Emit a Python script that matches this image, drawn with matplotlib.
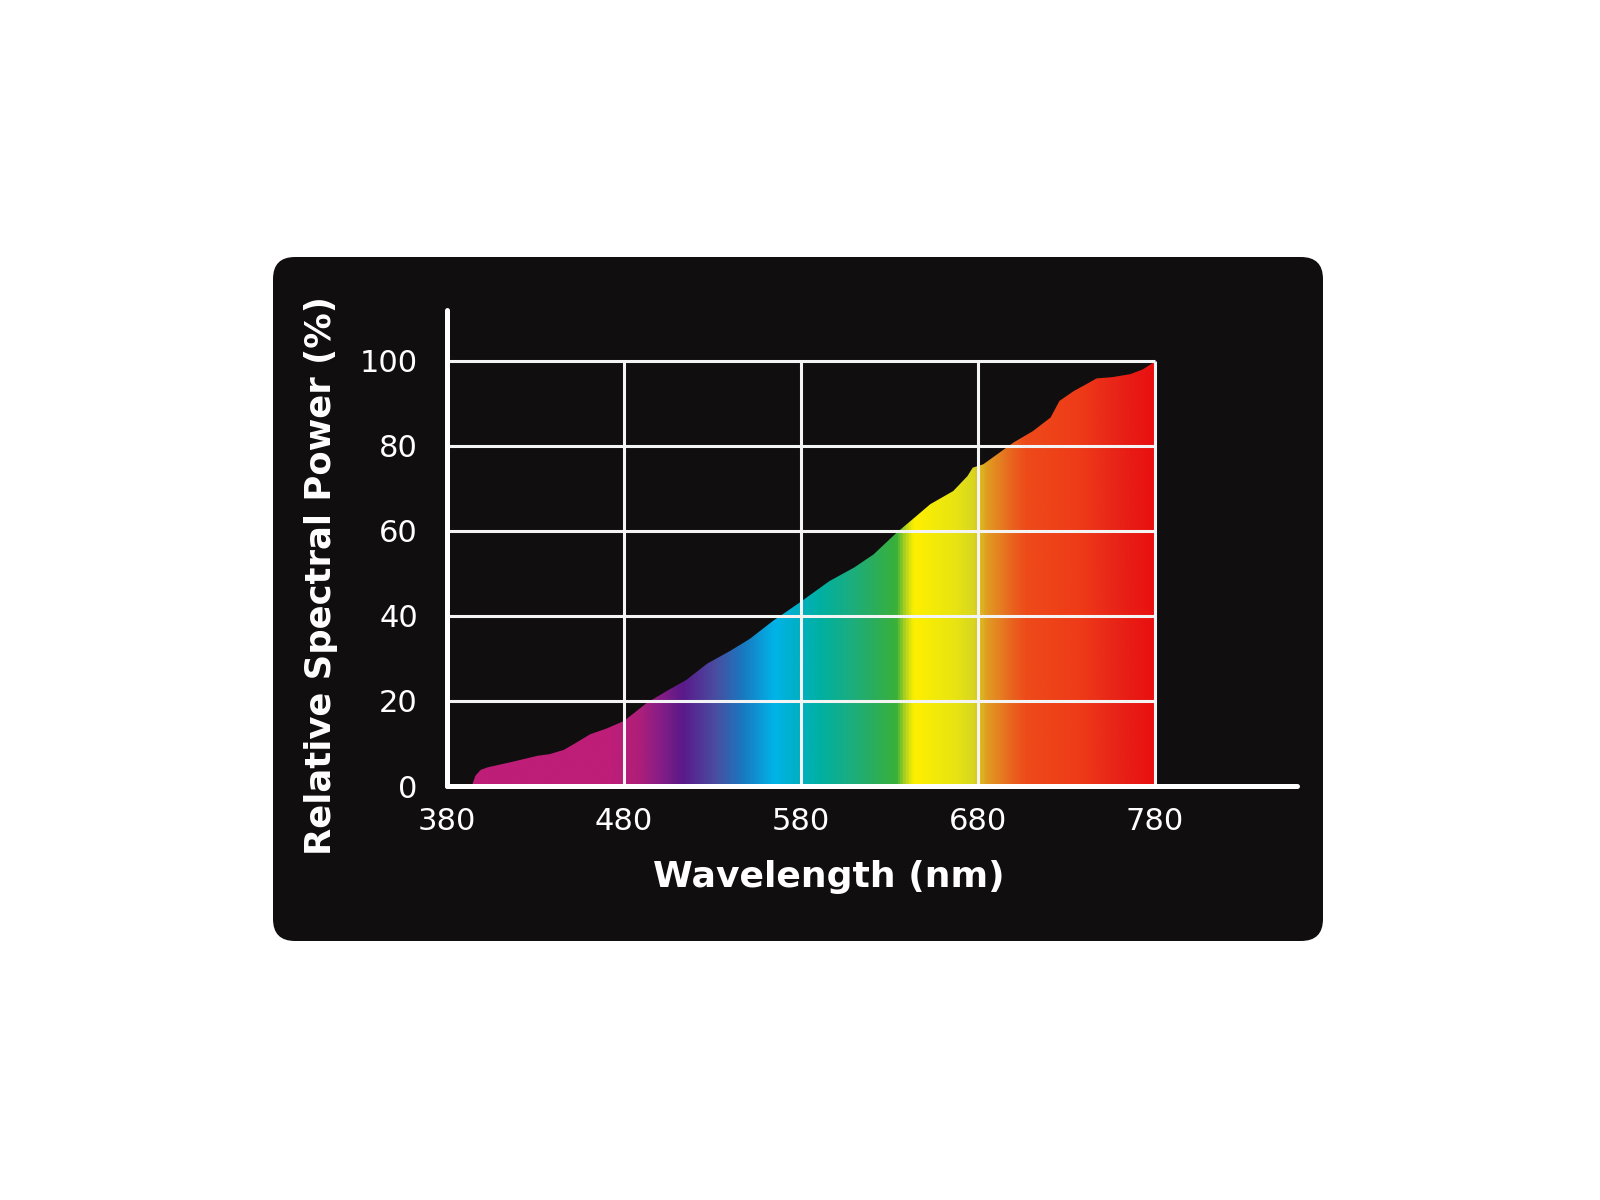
import numpy as np
import matplotlib
matplotlib.use('Agg')
import matplotlib.pyplot as plt
from matplotlib.patches import FancyBboxPatch
from matplotlib.colors import LinearSegmentedColormap

# ---- data ----
wavelength = [394, 396, 399, 403, 417, 431, 438, 446, 453, 461, 470, 480,
              493, 506, 515, 527, 540, 551, 564, 579, 591, 596, 610, 621,
              634, 644, 653, 666, 674, 677, 683, 692, 700, 711, 721, 726,
              734, 741, 747, 756, 766, 773, 779, 780]
power = [0, 2.4, 3.8, 4.4, 5.7, 7.1, 7.5, 8.5, 10.2, 12.2, 13.5, 15.3,
         19.6, 22.8, 24.9, 28.8, 31.8, 34.6, 38.8, 43.1, 46.7, 48.2, 51.4, 54.5,
         59.6, 63.1, 66.3, 69.4, 72.9, 74.9, 75.7, 78.4, 80.8, 83.5, 86.7, 90.6,
         92.9, 94.5, 95.9, 96.2, 96.9, 98.0, 99.6, 100]
x_ticks = [380, 480, 580, 680, 780]
y_ticks = [0, 20, 40, 60, 80, 100]

# spectrum colour stops (nm, colour)
stop_nm = [380, 470, 487, 499, 513, 531, 547, 565, 577, 591, 608, 624,
           634, 639, 644, 668, 678, 685, 698, 708, 739, 759, 780]
stop_colors = ['#be1e78', '#bf1e78', '#b01e78', '#8a1e85', '#5a1a8a', '#4a4ca0',
               '#1a78c0', '#00b4e8', '#00b0c8', '#00b0a2', '#1aad80', '#2eae55',
               '#3ab03a', '#a8d020', '#fff000', '#e8e412', '#d8d620', '#e0a020',
               '#e86a20', '#ee4a1a', '#ee3a18', '#e82418', '#e81010']

plt.rcParams['font.family'] = ['DejaVu Sans']

fig = plt.figure(figsize=(16, 12), dpi=100)
fig.patch.set_facecolor('white')

# background rounded black panel (pixel coordinates)
bg = fig.add_axes([0, 0, 1, 1])
bg.set_xlim(0, 1600)
bg.set_ylim(1200, 0)
bg.axis('off')
bg.add_patch(FancyBboxPatch((273, 257), 1050, 684,
                            boxstyle='round,pad=0,rounding_size=22',
                            fc='#110e0f', ec='none'))

ax = fig.add_axes([0.2794, 0.345, 0.531, 0.3967])
ax.patch.set_alpha(0)

# gradient fill clipped to the curve
poly = ax.fill_between(wavelength, power, 0, color='none', lw=0)
path = poly.get_paths()[0]
positions = [(s - stop_nm[0]) / (stop_nm[-1] - stop_nm[0]) for s in stop_nm]
cmap = LinearSegmentedColormap.from_list('spec', list(zip(positions, stop_colors)))
grad = np.linspace(0, 1, 1000).reshape(1, -1)
im = ax.imshow(grad, cmap=cmap, extent=[380, 780, 0, 100], aspect='auto',
               origin='lower', zorder=1, interpolation='bilinear')
im.set_clip_path(path, transform=ax.transData)

# grid cage
ax.hlines(y_ticks[1:], 380, 780, colors='#f4f4f4', lw=2.2, zorder=3)
ax.vlines(x_ticks[1:], 0, 100, colors='#f4f4f4', lw=2.2, zorder=3)

ax.set_xlim(380, 860)
ax.set_ylim(0, 112)

for side in ['top', 'right']:
    ax.spines[side].set_visible(False)
for side in ['left', 'bottom']:
    ax.spines[side].set_color('white')
    ax.spines[side].set_linewidth(3.6)
    ax.spines[side].set_capstyle('round')
    ax.spines[side].set_zorder(4)

ax.set_xticks(x_ticks)
ax.set_yticks(y_ticks)
ax.tick_params(axis='both', length=0, labelcolor='white', labelsize=22)
ax.tick_params(axis='x', pad=15)
ax.tick_params(axis='y', pad=21)

ax.set_xlabel('Wavelength (nm)', color='white', fontsize=26, fontweight='bold')
ax.set_ylabel('Relative Spectral Power (%)', color='white', fontsize=25.5,
              fontweight='bold')
ax.xaxis.label.set_va('center')
ax.yaxis.label.set_va('center')
ax.xaxis.set_label_coords(0.4496, -0.191)
ax.yaxis.set_label_coords(-0.148, 0.442)

fig.savefig('out.png', dpi=100, facecolor='white')
